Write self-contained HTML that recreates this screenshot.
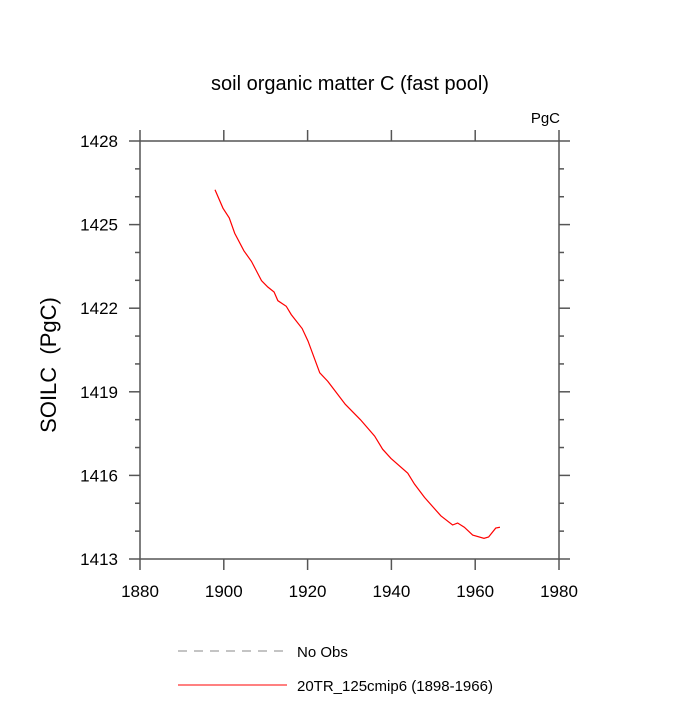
<!DOCTYPE html>
<html><head><meta charset="utf-8"><style>
body{margin:0;background:#fff;font-family:"Liberation Sans",sans-serif}
</style></head><body>
<svg id="chart" width="700" height="700" xmlns="http://www.w3.org/2000/svg" font-family="Liberation Sans, sans-serif">
<text x="350" y="90" font-size="20" text-anchor="middle">soil organic matter C (fast pool)</text>
<text x="560" y="123" font-size="15" text-anchor="end">PgC</text>
<text transform="translate(56,365) rotate(-90)" font-size="22" text-anchor="middle" style="white-space:pre" xml:space="preserve">SOILC  (PgC)</text>
<g id="axes"></g>
<g id="series"></g>
<line x1="178" y1="651" x2="287" y2="651" stroke="#888" stroke-dasharray="9,7"/>
<text x="297" y="657" font-size="15">No Obs</text>
<line x1="178" y1="685" x2="287" y2="685" stroke="#f00"/>
<text x="297" y="691" font-size="15">20TR_125cmip6 (1898-1966)</text>
</svg>
<script>
const xTicks=[1880,1900,1920,1940,1960,1980];
const yTicks=[1413,1416,1419,1422,1425,1428];
const years=[1897.9,1899.8,1901.3,1902.6,1904.8,1906.6,1909.0,1910.5,1912.0,1912.9,1914.9,1916.1,1918.7,1920.1,1922.9,1924.8,1929.0,1932.6,1936.0,1937.9,1939.9,1943.9,1945.5,1947.9,1951.8,1954.6,1955.8,1957.4,1959.4,1962.1,1963.2,1964.9,1965.9];
const soilc=[1426.25,1425.59,1425.24,1424.69,1424.06,1423.68,1422.99,1422.76,1422.58,1422.27,1422.07,1421.77,1421.27,1420.82,1419.68,1419.38,1418.55,1418.0,1417.41,1416.94,1416.61,1416.08,1415.69,1415.21,1414.55,1414.22,1414.29,1414.14,1413.86,1413.74,1413.79,1414.11,1414.14];
const L=140,R=559,T=141,B=559;
const sx=v=>L+(v-1880)/100*(R-L);
const sy=v=>B-(v-1413)/15*(B-T);
const NS="http://www.w3.org/2000/svg";
const ax=document.getElementById('axes');
function ln(x1,y1,x2,y2,name){const l=document.createElementNS(NS,'line');
l.setAttribute('x1',x1);l.setAttribute('y1',y1);l.setAttribute('x2',x2);l.setAttribute('y2',y2);
l.setAttribute('stroke','#555');l.setAttribute('stroke-width','1.5');


ax.appendChild(l);}
function tx(x,y,s,anchor,name){const t=document.createElementNS(NS,'text');
t.setAttribute('x',x);t.setAttribute('y',y);t.setAttribute('font-size','17');t.setAttribute('text-anchor',anchor);t.textContent=s;


ax.appendChild(t);}
const fr=document.createElementNS(NS,'rect');
fr.setAttribute('x',L);fr.setAttribute('y',T);fr.setAttribute('width',R-L);fr.setAttribute('height',B-T);
fr.setAttribute('fill','none');fr.setAttribute('stroke','#555');fr.setAttribute('stroke-width','1.5');


ax.appendChild(fr);
xTicks.forEach(v=>{const x=sx(v);ln(x,B,x,B+11,'x-tick');ln(x,T,x,T-11,'x-tick-top');tx(x,B+38,String(v),'middle','x-tick-label');});
yTicks.forEach(v=>{const y=sy(v);ln(L,y,L-11,y,'y-tick');ln(R,y,R+11,y,'y-tick-right');tx(L-22,y+6,String(v),'end','y-tick-label');});
for(let v=1413;v<=1428;v++){if((v-1413)%3){const y=sy(v);ln(L,y,L-5,y,'y-minor-tick');ln(R,y,R+5,y,'y-minor-tick-right');}}
const p=document.createElementNS(NS,'polyline');
p.setAttribute('points',years.map((yr,i)=>sx(yr)+','+sy(soilc[i])).join(' '));
p.setAttribute('fill','none');p.setAttribute('stroke','#f00');p.setAttribute('stroke-width','1.2');


document.getElementById('series').appendChild(p);
</script>
</body></html>
